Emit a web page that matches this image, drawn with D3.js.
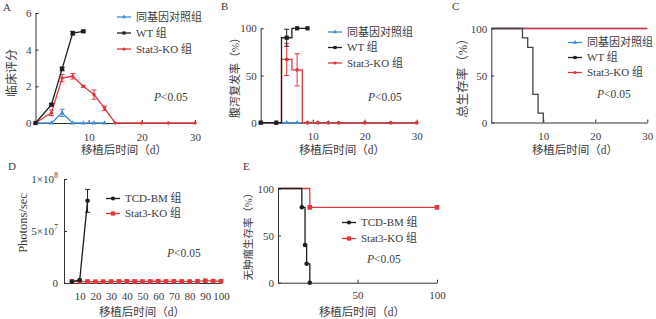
<!DOCTYPE html>
<html>
<head>
<meta charset="utf-8">
<script src="https://cdn.jsdelivr.net/npm/d3@7"></script>
<style>
body { margin: 0; background: #fff; }
text { font-family: "Liberation Serif", "Noto Sans CJK SC", serif; fill: #3c3c3c; }
.axis path, .axis line { stroke: #333; }
</style>
</head>
<body>
<div id="chart-area"></div>
<script>

// ---- data ----
// A: clinical score
var aCtrlDays = [0, 3, 5, 7, 9, 11, 13];
var aCtrlVal  = [0, 0, 0.55, 0, 0, 0, 0];
var aCtrlErr  = [0, 0, 0.2, 0, 0, 0, 0];
var aWtDays = [0, 3, 5, 7, 9];
var aWtVal  = [0, 1.0, 2.95, 4.9, 5.0];
var aWtErr  = [0, 0.05, 0.1, 0.1, 0.05];
var aKoDays = [0, 3, 5, 7, 9, 11, 13, 15, 20, 25, 30];
var aKoVal  = [0, 0.55, 2.45, 2.55, 2.0, 1.55, 0.8, 0, 0, 0, 0];
var aKoErr  = [0, 0.15, 0.2, 0.15, 0.05, 0.25, 0.12, 0, 0, 0, 0];

// B: diarrhoea relapse rate (%)
var bCtrlDays = [0, 3, 5, 7, 9, 11, 13];
var bCtrlVal  = [0, 0, 0, 0, 0, 0, 0];
var bWtDays = [0, 3, 5, 7, 9];
var bWtVal  = [0, 0, 90, 100, 100];
var bWtErr  = [0, 0, 9, 0, 0];
var bKoDays = [0, 3, 5, 7, 9, 11, 13, 15, 20, 25, 30];
var bKoVal  = [0, 0, 67, 56, 0, 0, 0, 0, 0, 0, 0];
var bKoErr  = [0, 0, 17, 17, 0, 0, 0, 0, 0, 0, 0];

// C: overall survival (%)
var cCtrlDays = [0, 30];
var cCtrlVal  = [100, 100];
var cKoDays = [0, 30];
var cKoVal  = [100, 100];
var cWtDays = [0, 6, 7, 8, 9, 10];
var cWtVal  = [100, 90, 80, 30, 10, 0];

// D: photons/sec
var dTcdDays = [5, 10, 15];
var dTcdVal  = [1.2e6, 2.8e6, 7.9e7];
var dTcdErr  = [0, 0, 1.1e7];
var dKoDays = [5, 10, 15, 20, 25, 30, 35, 40, 45, 50, 55, 60, 65, 70, 75, 80, 85, 90, 95, 100];
var dKoVal  = [1.6e6, 1.5e6, 1.4e6, 1.2e6, 1.3e6, 1.4e6, 1.5e6, 1.6e6, 1.5e6, 1.4e6,
               1.5e6, 1.7e6, 1.5e6, 1.6e6, 1.5e6, 1.4e6, 1.6e6, 2.2e6, 1.8e6, 1.7e6];

// E: tumour-free survival (%)
var eTcdDays = [0, 15, 17, 18, 20];
var eTcdVal  = [100, 80, 40, 20, 0];
var eKoDays = [0, 20, 100];
var eKoVal  = [100, 80, 80];

var legendA = ["同基因对照组", "WT 组", "Stat3-KO 组"];
var legendD = ["TCD-BM 组", "Stat3-KO 组"];
var xTitle = "移植后时间（d）";

var blue = "#3f8fd2", black = "#1e1e1e", red = "#e0373d";

var svg = d3.select("#chart-area").append("svg")
    .attr("width", 656).attr("height", 319);

function zip(days, vals, errs) {
    return days.map(function(d, i) { return {x: d, y: vals[i], e: errs ? errs[i] : 0}; });
}

function axes(x, y, xTicks, yTicks, xPad) {
    var gx = svg.append("g").attr("class", "axis")
        .attr("transform", "translate(0," + y.range()[0] + ")")
        .call(d3.axisBottom(x).tickValues(xTicks).tickFormat(d3.format("d"))
            .tickSizeInner(-3).tickSizeOuter(0).tickPadding(xPad || 10));
    var gy = svg.append("g").attr("class", "axis")
        .attr("transform", "translate(" + x.range()[0] + ",0)")
        .call(d3.axisLeft(y).tickValues(yTicks).tickFormat(d3.format("d"))
            .tickSizeInner(-3).tickSizeOuter(0).tickPadding(4));
    gx.attr("font-family", null).attr("font-size", 11);
    gy.attr("font-family", null).attr("font-size", 11);
    return gy;
}

function series(x, y, pts, color, curve, symbol, size, showFrom) {
    var line = d3.line().x(function(d) { return x(d.x); }).y(function(d) { return y(d.y); }).curve(curve);
    svg.append("path").datum(pts).attr("d", line)
        .attr("fill", "none").attr("stroke", color).attr("stroke-width", 1.3);
    var withErr = pts.filter(function(d) { return d.e > 0; });
    var eb = svg.append("g").attr("stroke", color).attr("stroke-width", 1);
    eb.selectAll("line.v").data(withErr).enter().append("line")
        .attr("x1", function(d) { return x(d.x); }).attr("x2", function(d) { return x(d.x); })
        .attr("y1", function(d) { return y(d.y + d.e); }).attr("y2", function(d) { return y(d.y - d.e); });
    eb.selectAll("line.t").data(withErr).enter().append("line")
        .attr("x1", function(d) { return x(d.x) - 2.5; }).attr("x2", function(d) { return x(d.x) + 2.5; })
        .attr("y1", function(d) { return y(d.y + d.e); }).attr("y2", function(d) { return y(d.y + d.e); });
    eb.selectAll("line.b").data(withErr).enter().append("line")
        .attr("x1", function(d) { return x(d.x) - 2.5; }).attr("x2", function(d) { return x(d.x) + 2.5; })
        .attr("y1", function(d) { return y(d.y - d.e); }).attr("y2", function(d) { return y(d.y - d.e); });
    if (symbol) {
        svg.append("g").selectAll("path").data(pts.filter(function(d) { return d.x >= (showFrom || 0); }))
            .enter().append("path")
            .attr("d", d3.symbol().type(symbol).size(size))
            .attr("transform", function(d) { return "translate(" + x(d.x) + "," + y(d.y) + ")"; })
            .attr("fill", color);
    }
}

function legend(x0, y0, dy, names, colors, symbols, sizes) {
    names.forEach(function(n, i) {
        var yy = y0 + i * dy;
        svg.append("line").attr("x1", x0).attr("x2", x0 + 14).attr("y1", yy).attr("y2", yy)
            .attr("stroke", colors[i]).attr("stroke-width", 1.3);
        svg.append("path").attr("d", d3.symbol().type(symbols[i]).size(sizes[i]))
            .attr("transform", "translate(" + (x0 + 7) + "," + yy + ")").attr("fill", colors[i]);
        svg.append("text").attr("x", x0 + 19).attr("y", yy).attr("dy", "0.35em")
            .attr("font-size", 11).text(n);
    });
}

function pval(x0, y0) {
    var t = svg.append("text").attr("x", x0).attr("y", y0).attr("dy", "0.35em").attr("font-size", 11.5);
    t.append("tspan").attr("font-style", "italic").text("P");
    t.append("tspan").text("<0.05");
}

function titles(letter, lx, ly, xt, xtx, xty, yt, ytx, yty, ysize) {
    svg.append("text").attr("x", lx).attr("y", ly).attr("font-size", 11).text(letter);
    svg.append("text").attr("x", xtx).attr("y", xty).attr("dy", "0.35em")
        .attr("text-anchor", "middle").attr("font-size", 11.5).text(xt);
    svg.append("text").attr("transform", "translate(" + ytx + "," + yty + ") rotate(-90)")
        .attr("dy", "0.35em").attr("text-anchor", "middle").attr("font-size", ysize || 11.5).text(yt);
}

var tri = d3.symbolTriangle, sq = d3.symbolSquare, circ = d3.symbolCircle;

// ---- A ----
var xA = d3.scaleLinear().domain([0, 30]).range([35.5, 195]);
var yA = d3.scaleLinear().domain([0, 6]).range([123, 13]);
axes(xA, yA, [10, 20, 30], [0, 2, 4, 6]);
series(xA, yA, zip(aCtrlDays, aCtrlVal, aCtrlErr), blue, d3.curveLinear, tri, 10);
series(xA, yA, zip(aKoDays, aKoVal, aKoErr), red, d3.curveLinear, circ, 10);
series(xA, yA, zip(aWtDays, aWtVal, aWtErr), black, d3.curveLinear, sq, 18);
legend(117, 17, 16, legendA, [blue, black, red], [tri, sq, circ], [8, 10, 8]);
pval(154, 97);
titles("A", 3, 11, xTitle, 124, 150, "临床评分", 12, 73, 12);

// ---- B ----
var xB = d3.scaleLinear().domain([0, 30]).range([260.7, 416.7]);
var yB = d3.scaleLinear().domain([0, 100]).range([122.7, 28.3]);
axes(xB, yB, [10, 20, 30], [0, 50, 100]);
series(xB, yB, zip(bCtrlDays, bCtrlVal), blue, d3.curveStep, tri, 10);
series(xB, yB, zip(bKoDays, bKoVal, bKoErr), red, d3.curveStep, circ, 12);
series(xB, yB, zip(bWtDays, bWtVal, bWtErr), black, d3.curveStep, sq, 18);
legend(328, 32, 15.5, legendA, [blue, black, red], [tri, sq, circ], [8, 10, 8]);
pval(368, 97);
titles("B", 221, 10, xTitle, 342, 150, "腹泻复发率（%）", 235, 75, 11);

// ---- C ----
var xC = d3.scaleLinear().domain([0, 30]).range([491.3, 647.3]);
var yC = d3.scaleLinear().domain([0, 100]).range([122.5, 28.5]);
axes(xC, yC, [10, 20, 30], [0, 50, 100]);
series(xC, yC, zip(cCtrlDays, cCtrlVal), blue, d3.curveStepAfter);
series(xC, yC, zip(cKoDays, cKoVal), red, d3.curveStepAfter);
series(xC, yC, zip(cWtDays, cWtVal), "#444", d3.curveStepAfter);
legend(568, 42.5, 15, legendA, [blue, black, red], [tri, sq, circ], [8, 10, 8]);
pval(597, 94);
titles("C", 452, 10, xTitle, 575, 150, "总生存率（%）", 463, 75, 12.5);

// ---- D ----
var xD = d3.scaleLinear().domain([0, 100]).range([64, 221]);
var yD = d3.scaleLinear().domain([0, 1e8]).range([283, 179]);
var gyD = axes(xD, yD, [10, 20, 30, 40, 50, 60, 70, 80, 90, 100], [0, 5e7, 1e8], 9);
gyD.selectAll(".tick text").each(function(d) {
    if (d === 0) return;
    var e = Math.floor(Math.log10(d));
    var t = d3.select(this).text(Math.round(d / Math.pow(10, e)) + "×10");
    t.append("tspan").attr("dy", -5).attr("font-size", 8).text(e);
});
gyD.selectAll(".tick text").attr("x", -6);
series(xD, yD, zip(dKoDays, dKoVal), red, d3.curveLinear, sq, 22);
series(xD, yD, zip(dTcdDays, dTcdVal, dTcdErr), black, d3.curveLinear, circ, 16);
legend(106, 198.5, 15, legendD, [black, red], [circ, sq], [14, 18]);
pval(167, 253);
titles("D", 8, 170, xTitle, 142, 312, "Photons/sec", 23, 223, 12.5);

// ---- E ----
var xE = d3.scaleLinear().domain([0, 100]).range([278, 437]);
var yE = d3.scaleLinear().domain([0, 100]).range([282.7, 188.5]);
axes(xE, yE, [50, 100], [0, 50, 100], 9);
series(xE, yE, zip(eKoDays, eKoVal), red, d3.curveStepAfter, sq, 22, 1);
series(xE, yE, zip(eTcdDays, eTcdVal), black, d3.curveStepAfter, circ, 16, 1);
legend(342, 222.5, 16, legendD, [black, red], [circ, sq], [14, 18]);
pval(367, 259);
titles("E", 243, 170, xTitle, 362, 312, "无肿瘤生存率（%）", 248, 234, 10.5);

</script>
</body>
</html>
